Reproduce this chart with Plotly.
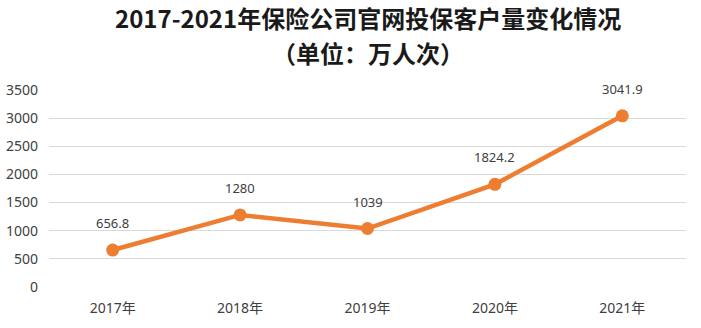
import plotly.graph_objects as go

years = ["2017年", "2018年", "2019年", "2020年", "2021年"]
values = [656.8, 1280, 1039, 1824.2, 3041.9]
labels = ["656.8", "1280", "1039", "1824.2", "3041.9"]
y_ticks = [0, 500, 1000, 1500, 2000, 2500, 3000, 3500]
title_lines = ["2017-2021年保险公司官网投保客户量变化情况", "（单位：万人次）"]

fig = go.Figure()
fig.add_trace(go.Scatter(
    x=years, y=values, mode="lines+markers",
    line=dict(color="#ED7D31", width=4.5),
    marker=dict(color="#ED7D31", size=13),
    cliponaxis=False, hoverinfo="skip",
))
for xv, yv, t in zip(years, values, labels):
    fig.add_annotation(x=xv, y=yv, text=t, showarrow=False, yshift=27,
                       font=dict(family="Noto Sans, Liberation Sans, sans-serif", size=13, color="#404040"))

# two title lines placed above the plot area
for line, shift in zip(title_lines, [73, 38]):
    fig.add_annotation(xref="paper", yref="paper", x=0.5, y=1, xanchor="center", yanchor="middle",
                       yshift=shift, showarrow=False, text="<b>" + line + "</b>",
                       font=dict(family="Noto Sans CJK SC", size=24, color="#1a1a1a"))

fig.update_layout(
    width=701, height=328,
    margin=dict(l=49, r=15, t=90, b=41),
    paper_bgcolor="white", plot_bgcolor="white",
    showlegend=False,
    xaxis=dict(
        type="category", range=[-0.5, 4.5], showgrid=False, showline=False,
        zeroline=False, ticks="", ticklabelstandoff=11, automargin=False,
        tickfont=dict(family="Noto Sans, Noto Sans CJK SC, sans-serif", size=14, color="#404040"),
    ),
    yaxis=dict(
        range=[0, 3500], tickvals=y_ticks, showgrid=True, gridcolor="#D9D9D9",
        gridwidth=1, zeroline=False, showline=False, ticks="",
        ticklabelstandoff=10, automargin=False,
        tickfont=dict(family="Noto Sans, sans-serif", size=14, color="#404040"),
    ),
)
fig.write_html("out.html")
